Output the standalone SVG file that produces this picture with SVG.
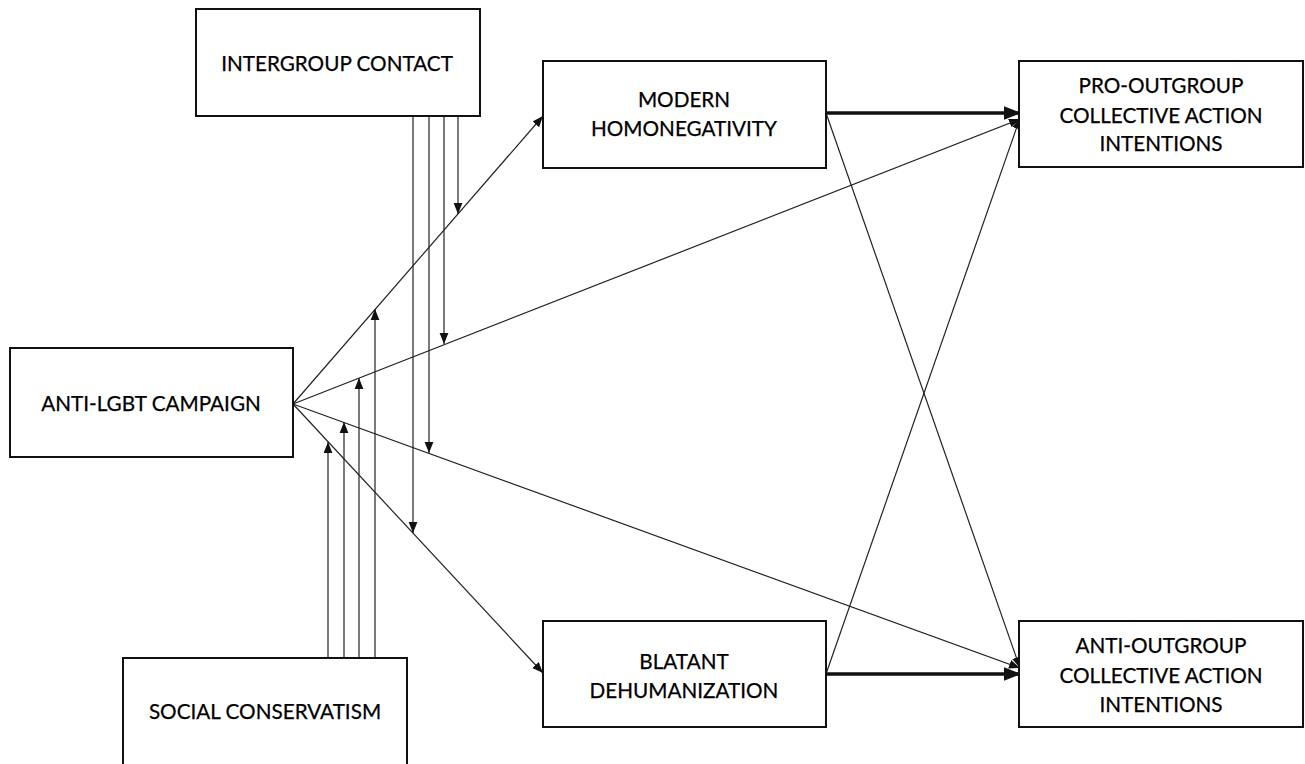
<svg xmlns="http://www.w3.org/2000/svg" width="1305" height="764" viewBox="0 0 1305 764">
<style>
.box{fill:#fff;stroke:#111;stroke-width:2}
.t{font-family:Lato,"Open Sans","Liberation Sans",sans-serif;font-size:20.7px;fill:#000;text-anchor:middle;stroke:#000;stroke-width:0.25}
.c{stroke:#222;stroke-width:1.2;fill:none}
.thick{stroke:#111;stroke-width:3.5;fill:none}
</style>
<defs>
<marker id="a" viewBox="0 0 10 10" refX="10" refY="5" markerWidth="11" markerHeight="11" markerUnits="userSpaceOnUse" orient="auto">
<path d="M0,1 L10,5 L0,9 Z" fill="#111"/>
</marker>
<marker id="ab" viewBox="0 0 10 10" refX="10" refY="5" markerWidth="5" markerHeight="5" orient="auto">
<path d="M0,1 L10,5 L0,9 Z" fill="#111"/>
</marker>
</defs>
<rect width="1305" height="764" fill="#fff"/>
<g id="connectors">
<line class="c" x1="293" y1="404" x2="543" y2="116" marker-end="url(#a)"/>
<line class="c" x1="293" y1="404" x2="1020" y2="119" marker-end="url(#a)"/>
<line class="c" x1="293" y1="404" x2="1020" y2="668" marker-end="url(#a)"/>
<line class="c" x1="293" y1="404" x2="543" y2="673" marker-end="url(#a)"/>
<line class="thick" x1="826" y1="113" x2="1021" y2="113" marker-end="url(#ab)"/>
<line class="thick" x1="826" y1="674" x2="1021" y2="674" marker-end="url(#ab)"/>
<line class="c" x1="826" y1="113" x2="1020" y2="668" marker-end="url(#a)"/>
<line class="c" x1="826" y1="674" x2="1020" y2="118" marker-end="url(#a)"/>
<line class="c" x1="458" y1="116" x2="458" y2="214" marker-end="url(#a)"/>
<line class="c" x1="444" y1="116" x2="444" y2="344" marker-end="url(#a)"/>
<line class="c" x1="429" y1="116" x2="429" y2="453" marker-end="url(#a)"/>
<line class="c" x1="413" y1="116" x2="413" y2="533" marker-end="url(#a)"/>
<line class="c" x1="375" y1="658" x2="375" y2="309" marker-end="url(#a)"/>
<line class="c" x1="359" y1="658" x2="359" y2="378" marker-end="url(#a)"/>
<line class="c" x1="344" y1="658" x2="344" y2="422" marker-end="url(#a)"/>
<line class="c" x1="328" y1="658" x2="328" y2="442" marker-end="url(#a)"/>
</g>
<g id="intergroup-contact">
<rect class="box" x="196" y="9" width="284" height="107"/>
<text class="t" x="337" y="71">INTERGROUP CONTACT</text>
</g>
<g id="anti-lgbt-campaign">
<rect class="box" x="10" y="348" width="283" height="109"/>
<text class="t" x="151" y="411">ANTI-LGBT CAMPAIGN</text>
</g>
<g id="social-conservatism">
<rect class="box" x="123" y="658" width="284" height="110"/>
<text class="t" x="265" y="719">SOCIAL CONSERVATISM</text>
</g>
<g id="modern-homonegativity">
<rect class="box" x="543" y="61" width="283" height="107"/>
<text class="t" x="684" y="107">MODERN</text>
<text class="t" x="684" y="136">HOMONEGATIVITY</text>
</g>
<g id="blatant-dehumanization">
<rect class="box" x="543" y="621" width="283" height="106"/>
<text class="t" x="684" y="669">BLATANT</text>
<text class="t" x="684" y="698">DEHUMANIZATION</text>
</g>
<g id="pro-outgroup">
<rect class="box" x="1019" y="61" width="284" height="106"/>
<text class="t" x="1161" y="93">PRO-OUTGROUP</text>
<text class="t" x="1161" y="123">COLLECTIVE ACTION</text>
<text class="t" x="1161" y="151">INTENTIONS</text>
</g>
<g id="anti-outgroup">
<rect class="box" x="1019" y="621" width="284" height="106"/>
<text class="t" x="1161" y="653">ANTI-OUTGROUP</text>
<text class="t" x="1161" y="683">COLLECTIVE ACTION</text>
<text class="t" x="1161" y="712">INTENTIONS</text>
</g>
</svg>
